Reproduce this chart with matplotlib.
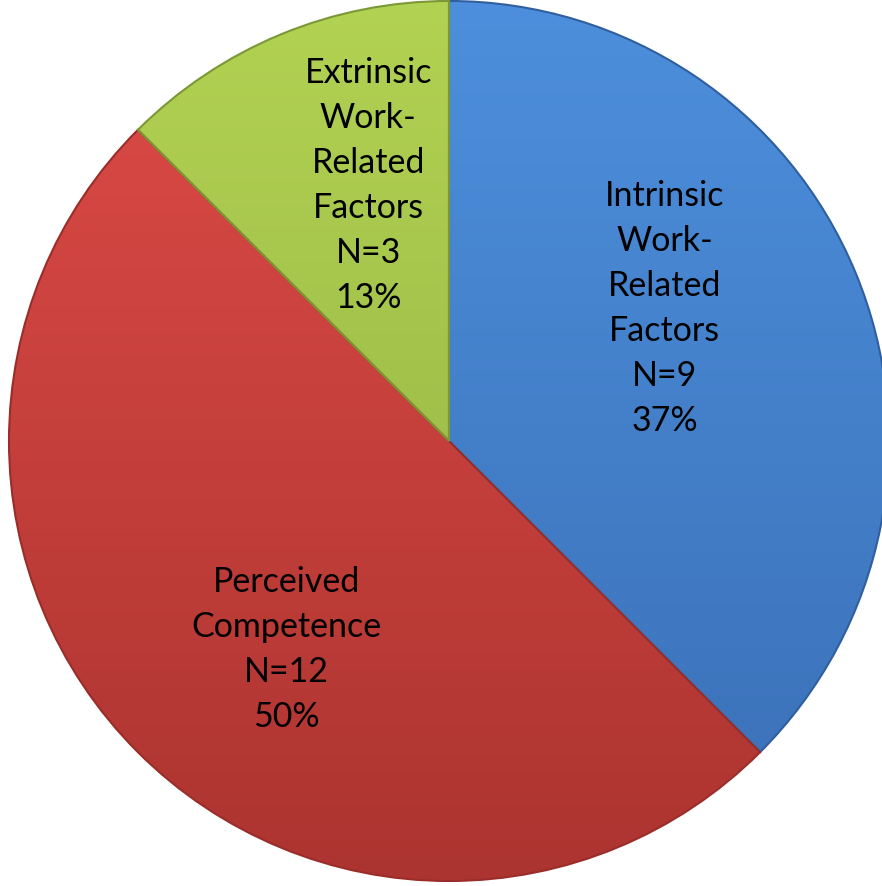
import numpy as np
import matplotlib
matplotlib.use('Agg')
from matplotlib import pyplot as plt
from matplotlib.colors import LinearSegmentedColormap

categories = ['Intrinsic\nWork-\nRelated\nFactors', 'Perceived\nCompetence', 'Extrinsic\nWork-\nRelated\nFactors']
counts = [9, 12, 3]
percents = ['37%', '50%', '13%']
top_colors = ['#4d8fdc', '#de4b47', '#b2d253']
bottom_colors = ['#3a6fb6', '#ac3430', '#8fad3f']
edge_colors = ['#2f5f9e', '#9a2d2a', '#7c9735']
label_r = [0.575, 0.60, 0.61]
label_shift = [9, 7, -5]   # degrees, labels sit a bit off the mid angle

fig = plt.figure(figsize=(8.82, 8.86), dpi=100)
ax = fig.add_axes([0, 0, 1, 1])

wedges, _ = ax.pie(counts, startangle=90, counterclock=False, radius=1,
                   colors=top_colors,
                   wedgeprops=dict(linewidth=1.5))

for i, w in enumerate(wedges):
    w.set_edgecolor(edge_colors[i])
    cmap = LinearSegmentedColormap.from_list('g%d' % i, [bottom_colors[i], top_colors[i]])
    grad = np.linspace(0, 1, 256).reshape(-1, 1)
    im = ax.imshow(grad, cmap=cmap, extent=[-1, 1, -1, 1], origin='lower',
                   aspect='auto', zorder=w.get_zorder() + 0.1)
    im.set_clip_path(w)
    w.set_zorder(w.get_zorder() + 0.2)
    w.set_facecolor('none')

    mid = np.deg2rad((w.theta1 + w.theta2) / 2 + label_shift[i])
    x = label_r[i] * np.cos(mid)
    y = label_r[i] * np.sin(mid)
    ax.text(x, y, '%s\nN=%d\n%s' % (categories[i], counts[i], percents[i]),
            ha='center', va='center', fontsize=24.5, family='Lato',
            linespacing=1.5, color='black', zorder=5)

ax.set_xlim(-449 / 440, 433 / 440)
ax.set_ylim(-445 / 440, 441 / 440)
ax.set_aspect('equal')
ax.axis('off')

plt.savefig('out.png', dpi=100)
plt.close()
